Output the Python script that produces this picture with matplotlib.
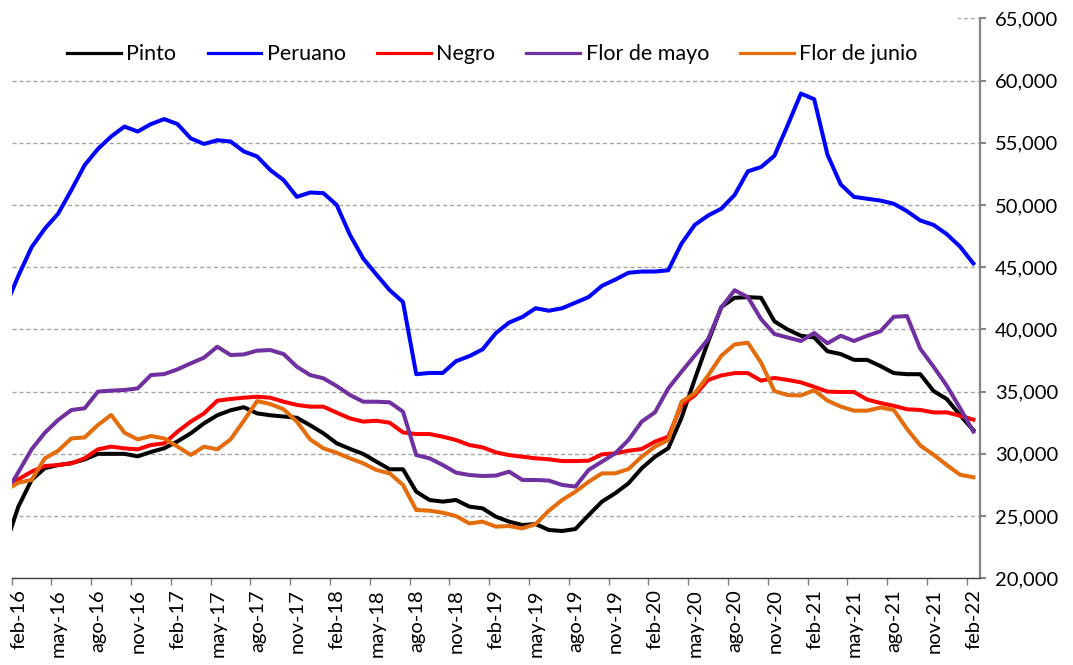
import numpy as np
import matplotlib.pyplot as plt
from matplotlib.patches import Rectangle
from matplotlib.ticker import FuncFormatter
from matplotlib.transforms import ScaledTranslation

plt.rcParams['font.family'] = ['Lato', 'DejaVu Sans']

# monthly prices, jan-16 .. feb-22 (jan-16 falls just left of the axis start)
pinto = [22550, 25750, 27900, 28850, 29100, 29250, 29550, 30000, 30000, 30000, 29800,
         30150, 30450, 31000, 31650, 32450, 33100, 33500, 33750, 33250, 33100, 33000,
         32900, 32300, 31650, 30850, 30400, 29990, 29370, 28760, 28760, 26960, 26290,
         26160, 26290, 25760, 25620, 24950, 24550, 24280, 24360, 23880, 23800, 23960,
         25080, 26160, 26830, 27630, 28840, 29770, 30450, 32900, 36000, 39000, 41800,
         42540, 42590, 42540, 40650, 39990, 39490, 39350, 38240, 38020, 37550, 37550,
         37050, 36490, 36400, 36400, 35050, 34400, 33110, 31900]
peruano = [41740, 44300, 46600, 48100, 49300, 51200, 53200, 54500, 55500, 56300, 55900,
           56500, 56900, 56500, 55350, 54900, 55200, 55100, 54300, 53900, 52800, 52000,
           50650, 51000, 50950, 50000, 47600, 45700, 44400, 43150, 42200, 36400, 36500,
           36500, 37450, 37850, 38400, 39700, 40550, 41000, 41700, 41500, 41700, 42150,
           42600, 43500, 44000, 44550, 44650, 44650, 44750, 46900, 48400, 49150, 49700,
           50800, 52700, 53050, 53950, 56400, 58950, 58500, 54050, 51650, 50650, 50500,
           50350, 50100, 49500, 48750, 48400, 47650, 46650, 45300]
negro = [27580, 27950, 28570, 29020, 29100, 29240, 29640, 30360, 30580, 30440, 30360,
         30710, 30840, 31780, 32590, 33250, 34270, 34410, 34510, 34590, 34510, 34190,
         33930, 33790, 33790, 33310, 32850, 32590, 32660, 32500, 31720, 31590, 31590,
         31380, 31110, 30710, 30520, 30120, 29900, 29770, 29640, 29560, 29420, 29420,
         29450, 29960, 30040, 30250, 30390, 30980, 31380, 33930, 34700, 35940, 36300,
         36490, 36490, 35880, 36100, 35940, 35745, 35385, 35000, 34970, 34970, 34360,
         34080, 33860, 33580, 33530, 33330, 33330, 33060, 32750]
flor_mayo = [26740, 28520, 30360, 31700, 32720, 33520, 33660, 35000, 35080, 35130, 35260,
             36330, 36410, 36790, 37270, 37730, 38610, 37940, 37990, 38290, 38340, 38020,
             37000, 36330, 36070, 35450, 34730, 34190, 34190, 34140, 33390, 29900, 29640,
             29100, 28490, 28300, 28220, 28250, 28570, 27900, 27900, 27850, 27500, 27370,
             28710, 29370, 30040, 31110, 32590, 33340, 35260, 36600, 37900, 39210, 41760,
             43150, 42590, 40820, 39630, 39350, 39070, 39710, 38880, 39490, 39070, 39490,
             39850, 41010, 41070, 38440, 37000, 35470, 33670, 31790]
flor_junio = [27040, 27680, 27900, 29640, 30250, 31240, 31320, 32320, 33120, 31700, 31160,
              31430, 31240, 30580, 29910, 30580, 30360, 31160, 32660, 34240, 34000, 33580,
              32590, 31160, 30440, 30090, 29640, 29240, 28700, 28430, 27500, 25490, 25430,
              25270, 25000, 24410, 24550, 24150, 24200, 24010, 24360, 25430, 26290, 26960,
              27760, 28430, 28430, 28780, 29770, 30580, 31110, 34190, 34860, 36300, 37880,
              38790, 38930, 37320, 35050, 34720, 34690, 35110, 34280, 33800, 33470, 33470,
              33720, 33530, 32000, 30670, 29930, 29100, 28320, 28120]

series = ["Pinto", "Peruano", "Negro", "Flor de mayo", "Flor de junio"]
colors = ["#000000", "#0000ff", "#ff0000", "#7030a0", "#e46c0a"]

tick_labels = ["feb-16", "may-16", "ago-16", "nov-16", "feb-17", "may-17", "ago-17",
               "nov-17", "feb-18", "may-18", "ago-18", "nov-18", "feb-19", "may-19",
               "ago-19", "nov-19", "feb-20", "may-20", "ago-20", "nov-20", "feb-21",
               "may-21", "ago-21", "nov-21", "feb-22"]

# mid-month positions, feb-16 starts at 0
x = np.arange(len(pinto)) - 0.5

fig = plt.figure(figsize=(10.73, 6.65), dpi=100)
ax = fig.add_axes([0.0109, 0.1304, 0.9024, 0.8421])

for name, vals, c in zip(series, [pinto, peruano, negro, flor_mayo, flor_junio], colors):
    ax.plot(x, vals, color=c, lw=2.9, label=name, solid_joinstyle="round")

ax.set_xlim(0, 73)
ax.set_ylim(20000, 65000)
ax.set_xticks(np.arange(0, 73, 3))
ax.set_xticklabels(tick_labels, rotation=90)
ax.set_yticks(np.arange(20000, 65001, 5000))
ax.yaxis.set_major_formatter(FuncFormatter(lambda v, p: f"{v:,.0f}"))
ax.yaxis.tick_right()

ax.grid(axis="y", color="#a6a6a6", linestyle=(0, (3, 2)), linewidth=1)
ax.set_axisbelow(True)
ax.spines["left"].set_visible(False)
ax.spines["top"].set_visible(False)
ax.spines["right"].set_color("#868686")
ax.spines["right"].set_linewidth(1.6)
ax.spines["bottom"].set_color("#404040")
ax.spines["bottom"].set_linewidth(1)

ax.tick_params(axis="y", direction="out", length=4, width=1.5, color="#868686",
               pad=7, labelsize=14.5)
ax.tick_params(axis="x", direction="out", length=5, width=1, color="#7f7f7f",
               pad=3, labelsize=14.5)
for lab in ax.get_xticklabels():
    lab.set_transform(lab.get_transform() + ScaledTranslation(7 / 100, 0, fig.dpi_scale_trans))

# legend area hides the top gridline
ax.add_patch(Rectangle((0, 0.975), 0.977, 0.05, transform=ax.transAxes,
                       facecolor="white", edgecolor="none", zorder=1.5, clip_on=False))

leg = ax.legend(ncol=5, loc="center", bbox_to_anchor=(0.4966, 0.9355), frameon=False,
                fontsize=15.5, handlelength=2.5, handletextpad=0.25, columnspacing=1.45)
for l in leg.get_lines():
    l.set_linewidth(2.3)

fig.savefig("out.png", dpi=100)
